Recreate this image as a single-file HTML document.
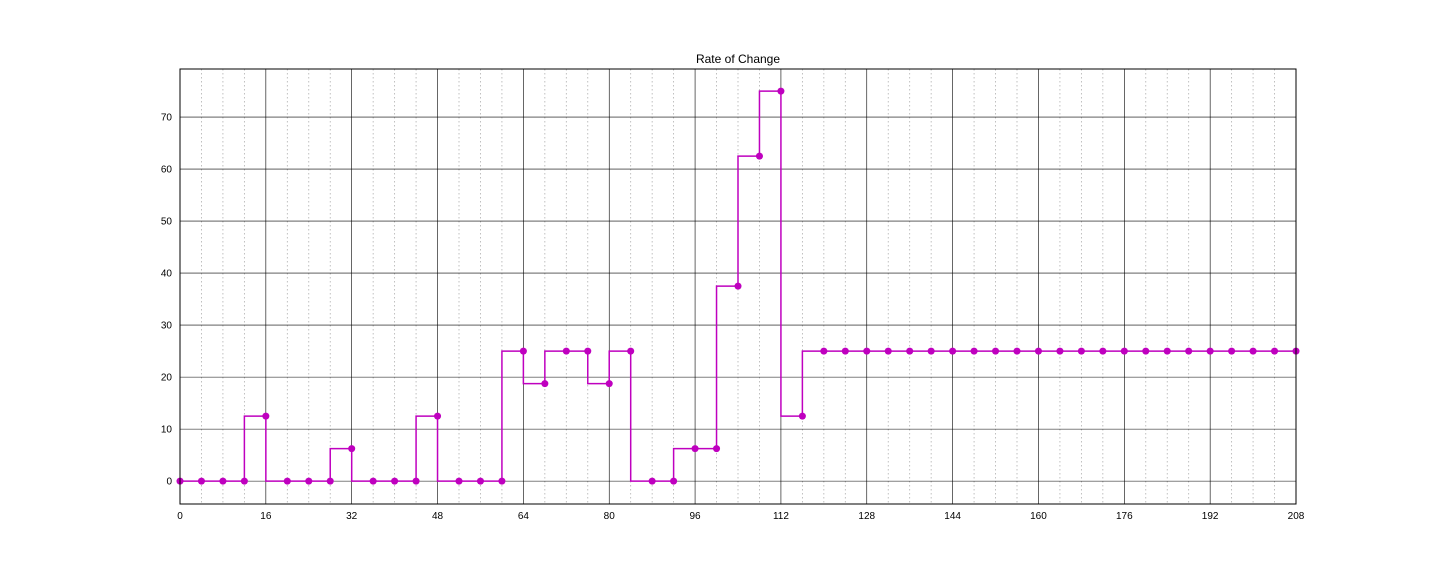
<!DOCTYPE html>
<html><head><meta charset="utf-8"><style>
body{margin:0;background:#fff;width:1440px;height:576px;overflow:hidden}
svg{font-family:"Liberation Sans","DejaVu Sans",sans-serif}
</style></head><body>
<svg id="chart" width="1440" height="576" xmlns="http://www.w3.org/2000/svg">
<text x="738" y="63" font-size="12" text-anchor="middle">Rate of Change</text>
<g id="grid"></g>
<g id="series"></g>
<rect x="180" y="69" width="1116" height="435" fill="none" stroke="#000" stroke-width="1"/>
<g id="ticks"></g>
</svg>
<script>
const xs = [0,4,8,12,16,20,24,28,32,36,40,44,48,52,56,60,64,68,72,76,80,84,88,92,96,100,104,108,112,116,120,124,128,132,136,140,144,148,152,156,160,164,168,172,176,180,184,188,192,196,200,204,208];
const values = [0,0,0,0,12.5,0,0,0,6.25,0,0,0,12.5,0,0,0,25,18.75,25,25,18.75,25,0,0,6.25,6.25,37.5,62.5,75,12.5,25,25,25,25,25,25,25,25,25,25,25,25,25,25,25,25,25,25,25,25,25,25,25];
const xTicks = [0,16,32,48,64,80,96,112,128,144,160,176,192,208];
const yTicks = [0,10,20,30,40,50,60,70];
const NS="http://www.w3.org/2000/svg";
const X0=180,X1=1296,Y0=504,Y1=69,xmin=0,xmax=208,ymin=-4.4,ymax=79.25;
const sx=v=>X0+(v-xmin)/(xmax-xmin)*(X1-X0);
const sy=v=>Y0-(v-ymin)/(ymax-ymin)*(Y0-Y1);
function mk(tag,attrs,parent){const e=document.createElementNS(NS,tag);for(const k in attrs)e.setAttribute(k,attrs[k]);parent.appendChild(e);return e;}
const grid=document.getElementById('grid'),ticks=document.getElementById('ticks'),series=document.getElementById('series');
for(let v=0;v<=xmax;v+=4){
  if(v%16===0)continue;
  const l=mk('line',{x1:sx(v),x2:sx(v),y1:Y1,y2:Y0,stroke:'#b0b0b0','stroke-width':0.8,'stroke-dasharray':'1.5,2.5'},grid);
  
  
}
xTicks.forEach(v=>{
  const l=mk('line',{x1:sx(v),x2:sx(v),y1:Y1,y2:Y0,stroke:'#000','stroke-width':0.6},grid);
  
  
  const t=mk('text',{x:sx(v),y:Y0+15,'font-size':10,'text-anchor':'middle'},ticks);
  t.textContent=v;
  
  
});
yTicks.forEach(v=>{
  const l=mk('line',{x1:X0,x2:X1,y1:sy(v),y2:sy(v),stroke:'#000','stroke-width':0.6},grid);
  
  
  const t=mk('text',{x:X0-8,y:sy(v)+3.5,'font-size':10,'text-anchor':'end'},ticks);
  t.textContent=v;
  
  
});
let d='M'+sx(xs[0])+','+sy(values[0]);
for(let i=1;i<xs.length;i++){d+=' V'+sy(values[i])+' H'+sx(xs[i]);}
const p=mk('path',{d:d,fill:'none',stroke:'#bf00bf','stroke-width':1.5},series);


xs.forEach((x,i)=>{
  const c=mk('circle',{cx:sx(x),cy:sy(values[i]),r:3.5,fill:'#bf00bf'},series);
  
  
});
</script>
</body></html>
